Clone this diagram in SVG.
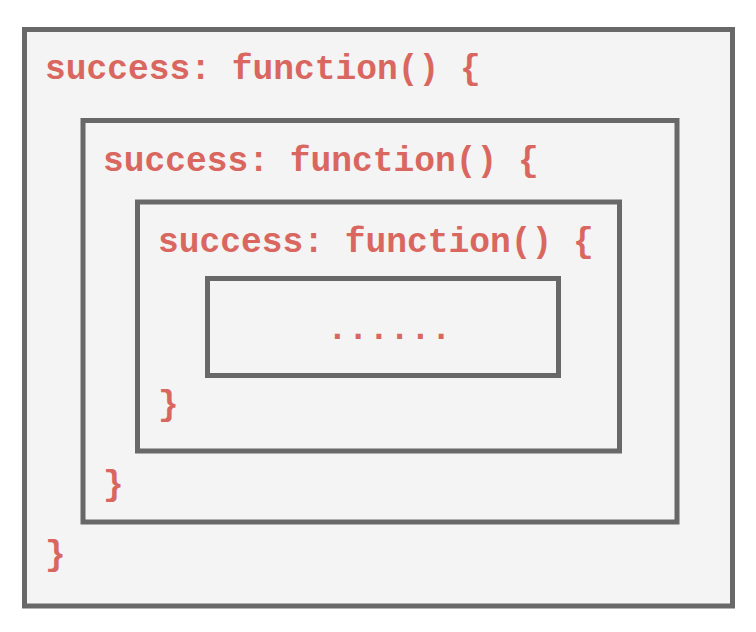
<svg xmlns="http://www.w3.org/2000/svg" width="756" height="632" viewBox="0 0 756 632">
<style>
.box{fill:#f4f4f4;stroke:#686868;stroke-width:5}
.t{font-family:"Courier New","Liberation Mono",monospace;font-weight:bold;font-size:34.6px;fill:#d9675f}
</style>
<rect width="756" height="632" fill="#ffffff"/>
<g id="outer">
<rect class="box" x="24.5" y="29.5" width="708" height="576.5"/>
<text class="t" x="45" y="79">success: function() {</text>
<text class="t" x="45" y="565">}</text>
</g>
<g id="level2">
<rect class="box" x="83" y="120.5" width="594" height="401.5"/>
<text class="t" x="103" y="171">success: function() {</text>
<text class="t" x="103" y="495">}</text>
</g>
<g id="level3">
<rect class="box" x="137.5" y="202" width="482" height="249"/>
<text class="t" x="158" y="252">success: function() {</text>
<text class="t" x="158" y="415">}</text>
</g>
<g id="inner">
<rect class="box" x="207.5" y="278.5" width="351" height="97"/>
<text class="t" x="327" y="339">......</text>
</g>
<g id="connectors"/>
</svg>
